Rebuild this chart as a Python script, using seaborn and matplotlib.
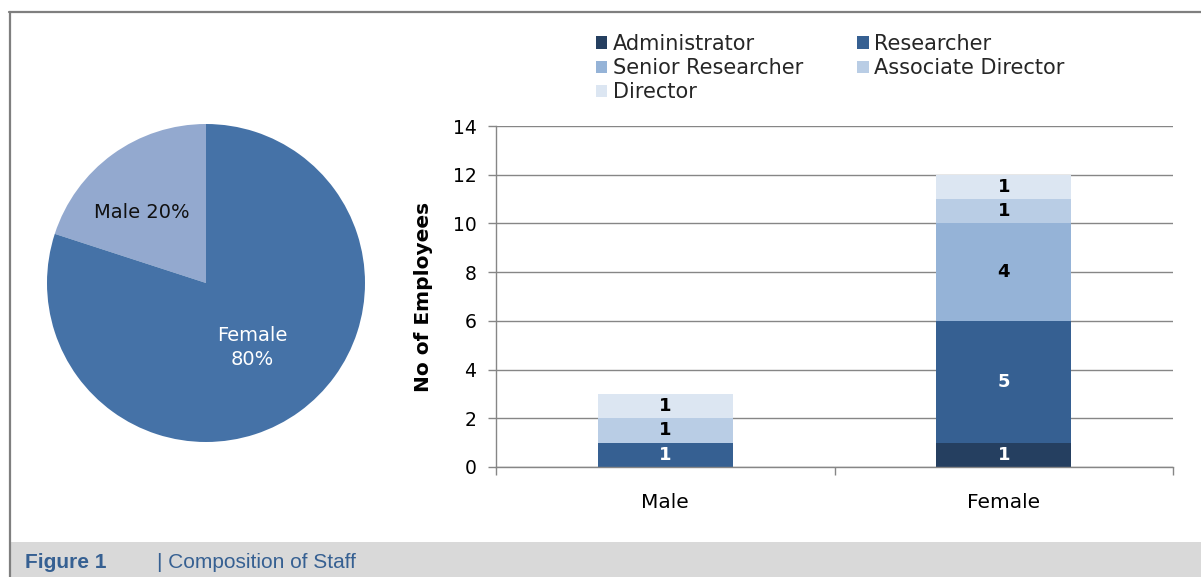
import numpy as np
import pandas as pd
import matplotlib
matplotlib.use("Agg")
import matplotlib.pyplot as plt
from matplotlib.patches import Patch, Rectangle
from matplotlib.lines import Line2D
import seaborn as sns

# ---- data ----
genders = ["Male", "Female"]
gender_share = [20, 80]
roles = ["Administrator", "Researcher", "Senior Researcher",
         "Associate Director", "Director"]
male_counts = [0, 1, 0, 1, 1]
female_counts = [1, 5, 4, 1, 1]
y_ticks = [0, 2, 4, 6, 8, 10, 12, 14]

role_colors = ["#253F60", "#366092", "#95B3D7", "#B9CDE5", "#DCE6F2"]
label_colors = ["white", "white", "black", "black", "black"]
pie_colors = {"Male": "#93A9CF", "Female": "#4572A7"}
pie_text_colors = {"Male": "#111111", "Female": "white"}

sns.set_theme(style="white")
plt.rcParams["font.family"] = ["DejaVu Sans"]

W, H = 1201, 577
fig = plt.figure(figsize=(W / 100, H / 100), dpi=100)


def px_rect(x0, y0, w, h):
    """Axes rectangle from pixel box (top-left origin)."""
    return [x0 / W, 1 - (y0 + h) / H, w / W, h / H]


# ---- pie: gender share ----
pcx, pcy, pr = 206, 283, 159
ax_pie = fig.add_axes(px_rect(pcx - pr, pcy - pr, 2 * pr, 2 * pr))
wedges, _ = ax_pie.pie(gender_share, colors=[pie_colors[g] for g in genders],
                       startangle=90, counterclock=True, radius=1,
                       wedgeprops=dict(linewidth=0))
ax_pie.set_xlim(-1, 1)
ax_pie.set_ylim(-1, 1)
ax_pie.set_aspect("equal")
ax_pie.axis("off")
for w, g, s in zip(wedges, genders, gender_share):
    mid = np.deg2rad((w.theta1 + w.theta2) / 2)
    if g == "Male":
        r, txt, dx, dy = 0.6, f"{g} {s}%", -0.05, -0.04
    else:
        r, txt, dx, dy = 0.5, f"{g}\n{s}%", 0.0, 0.0
    ax_pie.text(r * np.cos(mid) + dx, r * np.sin(mid) + dy, txt,
                ha="center", va="center", fontsize=14,
                color=pie_text_colors[g], linespacing=1.3)

# ---- stacked bars: staff by role ----
ax = fig.add_axes(px_rect(496, 126, 677, 341))
counts = pd.DataFrame({"Male": male_counts, "Female": female_counts}, index=roles)
cum = counts.cumsum()

# draw cumulative totals from the top segment down so each lower band overlays
for i in range(len(roles) - 1, -1, -1):
    sns.barplot(x=genders, y=[cum.loc[roles[i], g] for g in genders],
                color=role_colors[i], saturation=1, width=0.4, errorbar=None,
                linewidth=0, edgecolor="none", ax=ax, zorder=2)

for gi, g in enumerate(genders):
    base = 0
    for i, role in enumerate(roles):
        c = counts.loc[role, g]
        if c > 0:
            ax.text(gi, base + c / 2, str(c), ha="center", va="center",
                    fontsize=13, fontweight="bold", color=label_colors[i],
                    zorder=3)
        base += c

ax.set_xlim(-0.5, 1.5)
ax.set_ylim(0, 14)
ax.set_yticks(y_ticks)
ax.set_yticklabels([str(t) for t in y_ticks], fontsize=13.5)
ax.set_xticks(range(len(genders)))
ax.set_xticklabels(genders, fontsize=14.5)
ax.set_xticks([-0.5, 0.5, 1.5], minor=True)
ax.tick_params(axis="x", which="major", length=0, pad=19, colors="black")
ax.tick_params(axis="x", which="minor", length=6, width=1, color="#868686",
               direction="out", bottom=True)
ax.tick_params(axis="y", length=6, width=1, color="#868686", pad=8,
               direction="out", left=True, labelcolor="black")
ax.set_xlabel("")
ax.set_ylabel("No of Employees", fontsize=14.5, fontweight="bold", color="black")
ax.yaxis.set_label_coords(-0.093, 0.5)
ax.yaxis.grid(True, color="#868686", linewidth=1)
ax.xaxis.grid(False)
ax.set_axisbelow(True)
for side in ["top", "right"]:
    ax.spines[side].set_visible(False)
for side in ["left", "bottom"]:
    ax.spines[side].set_color("#868686")
    ax.spines[side].set_linewidth(1)

# legend laid out row by row in two columns
handles = [Patch(facecolor=c, edgecolor="none") for c in role_colors]
order = [0, 2, 4, 1, 3]
fig.legend([handles[i] for i in order], [roles[i] for i in order],
           loc="upper left", bbox_to_anchor=(596 / W, 1 - 34 / H), ncol=2,
           frameon=False, fontsize=15, handlelength=0.55, handleheight=0.55,
           handletextpad=0.25, labelspacing=0.2, columnspacing=2.6,
           borderpad=0, borderaxespad=0)

# ---- frame and caption band ----
fig.add_artist(Line2D([9 / W, 1], [1 - 12 / H, 1 - 12 / H],
                      transform=fig.transFigure, color="#7F7F7F", linewidth=1.6))
fig.add_artist(Line2D([9.5 / W, 9.5 / W], [0, 1 - 12 / H],
                      transform=fig.transFigure, color="#7F7F7F", linewidth=1.6))
fig.add_artist(Rectangle((10.5 / W, 0), 1 - 10.5 / W, 35 / H,
                         transform=fig.transFigure, facecolor="#D9D9D9",
                         edgecolor="none"))
fig.text(25 / W, 1 - 562 / H, "Figure 1", fontsize=15, fontweight="bold",
         color="#366092", va="center", ha="left", family=["Liberation Sans"])
fig.text(157 / W, 1 - 562 / H, "| Composition of Staff", fontsize=15,
         color="#366092", va="center", ha="left", family=["Liberation Sans"])

fig.savefig("out.png", dpi=100)
